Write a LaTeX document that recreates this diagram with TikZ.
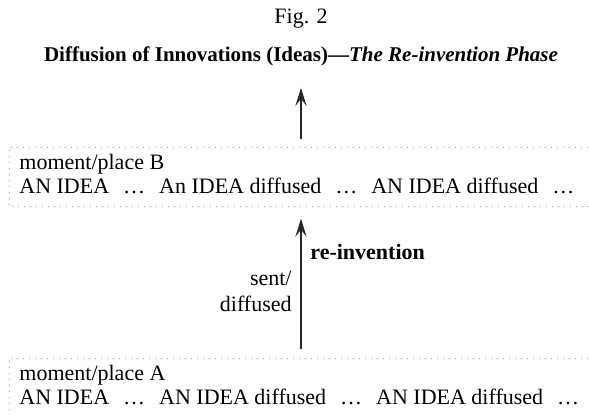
\documentclass[tikz,border=0pt]{standalone}
\usepackage{fontspec}
\setmainfont{Liberation Serif}
\usetikzlibrary{arrows.meta, positioning}

\newcommand{\gapdots}{\hspace{7pt}\dots\hspace{7pt}}

\begin{document}
\begin{tikzpicture}[
    x=0.5pt, y=0.5pt,
    caption/.style={inner sep=0pt, font=\fontsize{11}{13}\selectfont},
    panel/.style={rectangle, inner sep=0pt, minimum width=310pt, anchor=north west},
    entry/.style={inner sep=0pt, anchor=base west, align=left,
                  font=\fontsize{11}{12}\selectfont},
    edgeline/.style={line width=0.45pt, gray!80, dash pattern=on 0.5pt off 2.5pt},
    arrow/.style={-{Stealth[length=9pt, width=5.6pt, inset=3.6pt]}, line width=0.55pt, black!85},
    label/.style={inner sep=0pt, font=\fontsize{11}{13}\selectfont}
  ]
    \useasboundingbox (0,0) rectangle (589,-415);

    \node[caption] (fig) at (301,-19) {Fig. 2};
    \node[caption, font=\fontsize{10.5}{13}\selectfont\bfseries] (title) at (301,-56)
      {Diffusion of Innovations (Ideas)---\textit{The Re-invention Phase}};

    % the two moments, boxes run off the right edge
    \node[panel, minimum height=29.5pt] (boxB) at (9,-147) {};
    \node[panel, minimum height=40pt] (boxA) at (9,-358) {};
    \draw[edgeline] (boxB.north east) -- (boxB.north west) -- (boxB.south west) -- (boxB.south east);
    \draw[edgeline] (boxA.north east) -- (boxA.north west) -- (boxA.south west);

    \node[entry] (placeB) at (19,-194) {moment/place B\\
      AN IDEA\gapdots An IDEA diffused\gapdots AN IDEA diffused\gapdots};
    \node[entry] (placeA) at (19,-405) {moment/place A\\
      AN IDEA\gapdots AN IDEA diffused\gapdots AN IDEA diffused\gapdots};

    \coordinate (axis) at (301,0);
    \coordinate (onward) at (301,-88);
    \draw[arrow, shorten <=4pt] (boxB.north -| axis) -- (onward);
    \draw[arrow, shorten <=4.5pt, shorten >=6pt] (boxA.north -| axis) -- (boxB.south -| axis);

    \node[label, font=\fontsize{11}{13}\selectfont\bfseries, anchor=west] (reinv) at (310,-252) {re-invention};
    \node[label, align=right, anchor=east] (sent) at (292,-291) {sent/\\diffused};
  \end{tikzpicture}
\end{document}
